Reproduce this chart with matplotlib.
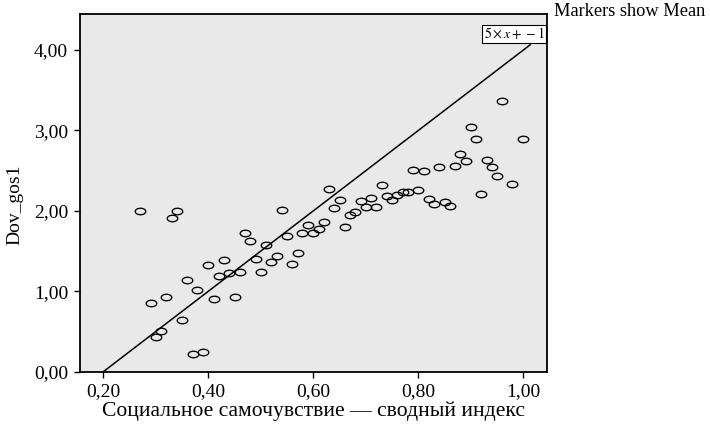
"""Scatter of group means with the reference line 5x - 1."""

import matplotlib
import numpy as np
from matplotlib.path import Path
from matplotlib.transforms import Affine2D

matplotlib.use("Agg")
import matplotlib.pyplot as plt

plt.rcParams["font.family"] = ["Liberation Serif", "DejaVu Serif"]
plt.rcParams["mathtext.fontset"] = "stix"

# group means
x_vals = [
    0.270, 0.331, 0.340, 0.540, 0.590, 0.470, 0.480, 0.509, 0.550, 0.579,
    0.570, 0.560, 0.530, 0.519, 0.490, 0.500, 0.460, 0.439, 0.420, 0.430,
    0.399, 0.359, 0.379, 0.410, 0.450, 0.320, 0.290, 0.350, 0.310, 0.300,
    0.370, 0.390,
    0.630, 0.730, 0.790, 0.810, 0.840, 0.870, 0.880, 0.890, 0.900, 0.910,
    0.959, 1.000, 0.930, 0.940, 0.950, 0.979, 0.919, 0.800, 0.780, 0.770,
    0.759, 0.740, 0.750, 0.820, 0.830, 0.850, 0.860, 0.710, 0.720, 0.700,
    0.690, 0.680, 0.670, 0.660, 0.650, 0.640, 0.620, 0.610, 0.600,
]
y_vals = [
    2.00, 1.91, 2.00, 2.01, 1.83, 1.73, 1.63, 1.57, 1.69, 1.72,
    1.48, 1.34, 1.44, 1.37, 1.40, 1.24, 1.24, 1.23, 1.19, 1.39,
    1.33, 1.14, 1.02, 0.91, 0.93, 0.93, 0.86, 0.64, 0.50, 0.43,
    0.22, 0.25,
    2.27, 2.32, 2.51, 2.49, 2.54, 2.56, 2.71, 2.62, 3.04, 2.89,
    3.36, 2.89, 2.63, 2.55, 2.43, 2.33, 2.21, 2.26, 2.24, 2.23,
    2.20, 2.18, 2.14, 2.15, 2.09, 2.11, 2.06, 2.16, 2.05, 2.05,
    2.12, 1.99, 1.95, 1.80, 2.13, 2.04, 1.86, 1.78, 1.72,
]

x_ticks = [0.2, 0.4, 0.6, 0.8, 1.0]
y_ticks = [0, 1, 2, 3, 4]
slope, intercept = 5, -1
line_x = [0.2, 1.013]

BG = "#e9e9e9"


def comma(v):
    return f"{v:.2f}".replace(".", ",")


def main() -> None:
    fig = plt.figure(figsize=(7.1, 4.29), dpi=100)
    ax = fig.add_axes([0.1127, 0.1336, 0.6573, 0.8338])
    ax.set_facecolor(BG)

    # flattened open circle, like the SPSS marker
    ellipse = Path.unit_circle().transformed(Affine2D().scale(1.0, 0.62))
    ax.plot(x_vals, y_vals, linestyle="none", marker=ellipse,
            markersize=7.6, markerfacecolor="none", markeredgecolor="black",
            markeredgewidth=0.95)

    lx = np.array(line_x)
    ax.plot(lx, slope * lx + intercept, color="black", linewidth=1.1)
    ax.text(1.0395, 4.11, r"$5\times x+-1$", ha="right", va="bottom",
            fontsize=10,
            bbox=dict(boxstyle="square,pad=0.1", facecolor="white",
                      edgecolor="black", linewidth=0.8))

    ax.set_xlim(0.1556, 1.0444)
    ax.set_ylim(0, 4.448)
    ax.set_xticks(x_ticks)
    ax.set_yticks(y_ticks)
    ax.set_xticklabels([comma(v) for v in x_ticks])
    ax.set_yticklabels([comma(v) for v in y_ticks])
    ax.tick_params(direction="out", length=4.5, width=1.0, labelsize=14,
                   color="black", pad=4)
    for sp in ax.spines.values():
        sp.set_linewidth(1.3)

    fig.text(0.5 * (0.1127 + 0.77), 1 - 411 / 429,
             "Социальное самочувствие — сводный индекс",
             ha="center", va="center", fontsize=15.6)
    fig.text(15 / 710, 1 - 205 / 429, "Dov_gos1", rotation=90,
             ha="center", va="center", fontsize=14)
    fig.text(554 / 710, 1 - 12 / 429, "Markers show Mean",
             ha="left", va="center", fontsize=13.2)

    fig.savefig("out.png", dpi=100)


if __name__ == "__main__":
    main()
